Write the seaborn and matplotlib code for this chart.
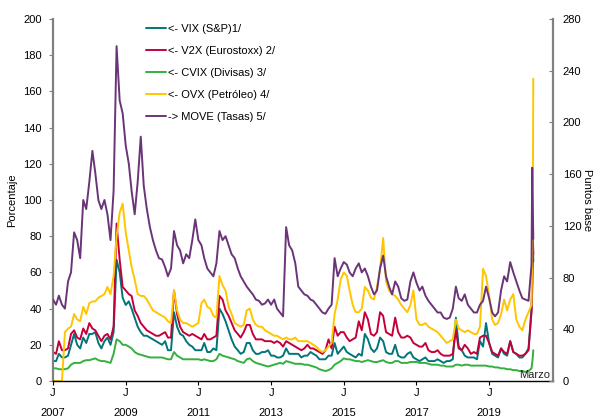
import pandas as pd
import matplotlib
matplotlib.use("Agg")
import matplotlib.pyplot as plt
import seaborn as sns

# monthly readings Jan 2007 - Feb 2020, then a few points in March 2020
months = pd.date_range("2007-01-01", "2020-02-01", freq="MS")
tail = pd.to_datetime(["2020-03-02", "2020-03-09", "2020-03-16", "2020-03-20"])
dates = months.append(tail)

vix = [11, 11, 15, 13, 13, 14, 20, 26, 20, 18, 24, 21,
       26, 26, 27, 21, 18, 22, 24, 20, 27, 67, 60, 46,
       42, 44, 40, 35, 30, 27, 25, 25, 24, 23, 22, 21,
       20, 22, 17, 17, 38, 30, 26, 25, 22, 20, 19, 17,
       17, 17, 21, 16, 16, 18, 17, 40, 37, 33, 28, 23,
       19, 17, 15, 16, 21, 21, 17, 15, 15, 16, 16, 17,
       14, 14, 13, 13, 14, 18, 15, 15, 15, 15, 13, 14,
       14, 16, 15, 14, 12, 12, 12, 14, 14, 21, 15, 17,
       19, 16, 15, 14, 13, 15, 14, 26, 23, 18, 16, 18,
       24, 22, 16, 15, 15, 20, 14, 13, 13, 15, 16, 13,
       12, 11, 12, 13, 11, 11, 11, 12, 11, 10, 11, 11,
       12, 35, 19, 17, 14, 13, 13, 13, 12, 22, 19, 32,
       21, 15, 14, 13, 18, 15, 14, 22, 16, 15, 13, 13,
       15, 18, 40, 54, 78, 66]

v2x = [16, 15, 22, 17, 17, 18, 26, 28, 24, 23, 29, 26,
       32, 29, 28, 25, 22, 25, 26, 23, 30, 87, 67, 52,
       50, 48, 47, 39, 36, 32, 30, 28, 27, 26, 25, 25,
       26, 27, 24, 24, 50, 37, 30, 27, 26, 25, 26, 25,
       24, 23, 26, 23, 23, 24, 25, 47, 45, 39, 36, 32,
       28, 26, 24, 27, 31, 31, 26, 23, 23, 23, 22, 22,
       22, 21, 22, 21, 19, 22, 21, 20, 19, 18, 17, 18,
       20, 18, 18, 17, 16, 15, 17, 23, 18, 30, 25, 27,
       27, 24, 22, 23, 24, 33, 28, 38, 34, 26, 25, 27,
       38, 36, 27, 26, 25, 35, 27, 24, 24, 25, 24, 21,
       20, 19, 19, 21, 17, 16, 16, 17, 15, 14, 14, 14,
       15, 28, 18, 17, 20, 18, 15, 16, 15, 24, 25, 25,
       21, 16, 15, 14, 18, 16, 15, 22, 16, 15, 14, 14,
       15, 17, 38, 50, 80, 70]

cvix = [7, 7, 6.5, 6.5, 6.5, 7, 9, 10, 10, 10, 11, 11.5,
        11.5, 12, 12.5, 11.5, 11, 11, 10.5, 10, 15, 23, 22, 20,
        20, 19, 18, 16, 15, 14.5, 14, 13.5, 13, 13, 13, 13,
        13, 12.5, 12, 12, 16, 14, 13, 12, 12, 12, 12, 12,
        12, 11.5, 12, 11.5, 11, 11, 12, 15, 14, 13.5, 13, 12.5,
        12, 11, 10.5, 10, 12, 12.5, 11, 10, 9.5, 9, 8.5, 8,
        8.5, 9, 9.5, 10, 9.5, 11, 10.5, 10, 9.5, 9.5, 9.5, 9,
        9, 8.5, 8, 7.5, 6.5, 6, 5.5, 6, 7, 9, 10, 11,
        12.5, 12, 12, 11.5, 11, 11, 10.5, 11, 11.5, 11, 10.5, 10.5,
        11, 11.5, 10.5, 10, 10, 11, 11, 10, 10, 10, 10.5, 10.5,
        10.5, 10, 10, 10, 9.5, 9, 9, 9, 8.5, 8.5, 8, 8,
        8, 9, 9, 8.5, 9, 9, 8.5, 8.5, 8.5, 8.5, 8.5, 8.5,
        8, 8, 7.5, 7.5, 7, 7, 6.5, 6.5, 6, 6, 5.5, 5.5,
        5, 5.5, 7, 10, 14, 17]

ovx = [0, 0, 0, 0, 27, 29, 30, 37, 34, 33, 41, 37,
       43, 44, 44, 46, 47, 48, 52, 48, 58, 80, 93, 98,
       82, 72, 63, 56, 48, 47, 47, 45, 42, 39, 38, 37,
       36, 35, 33, 32, 50, 39, 34, 32, 32, 31, 30, 31,
       32, 43, 45, 41, 40, 36, 35, 58, 53, 50, 41, 37,
       32, 31, 30, 31, 39, 40, 34, 31, 30, 30, 28, 27,
       26, 25, 25, 24, 23, 24, 23, 23, 24, 22, 22, 22,
       22, 21, 20, 19, 17, 16, 17, 19, 21, 37, 45, 56,
       60, 58, 50, 42, 38, 38, 40, 52, 50, 46, 45, 52,
       62, 79, 55, 50, 48, 47, 45, 42, 40, 38, 42, 50,
       34, 31, 31, 32, 30, 29, 28, 27, 25, 23, 21, 22,
       23, 34, 29, 28, 27, 28, 27, 26, 26, 30, 62, 58,
       47, 34, 31, 32, 37, 45, 39, 45, 48, 34, 30, 28,
       34, 38, 42, 70, 110, 167]

move = [63, 59, 66, 59, 56, 77, 84, 115, 109, 95, 140, 133,
        154, 178, 161, 140, 133, 140, 129, 109, 147, 259, 217, 207,
        182, 168, 147, 129, 154, 189, 151, 133, 119, 109, 101, 95,
        94, 88, 81, 87, 116, 105, 101, 91, 98, 95, 109, 125,
        109, 105, 95, 87, 84, 81, 91, 116, 109, 112, 105, 98,
        95, 87, 81, 77, 73, 70, 67, 63, 62, 59, 60, 63,
        59, 63, 56, 53, 50, 119, 105, 101, 91, 73, 70, 67,
        66, 63, 62, 59, 56, 53, 52, 56, 59, 95, 81, 87,
        92, 90, 84, 81, 87, 91, 84, 87, 81, 73, 67, 70,
        87, 97, 81, 73, 67, 77, 73, 64, 62, 63, 77, 84,
        76, 70, 73, 66, 62, 59, 56, 53, 53, 49, 48, 49,
        56, 73, 64, 62, 67, 59, 56, 53, 53, 59, 62, 73,
        64, 53, 50, 53, 70, 81, 77, 92, 84, 77, 70, 64,
        63, 62, 90, 165, 130, 110]

labels = ["<- VIX (S&P)1/", "<- V2X (Eurostoxx) 2/", "<- CVIX (Divisas) 3/",
          "<- OVX (Petróleo) 4/", "-> MOVE (Tasas) 5/"]
colors = ["#00767A", "#C4003A", "#34B03E", "#FFC600", "#6B3479"]

tick_years = [2007, 2009, 2011, 2013, 2015, 2017, 2019]

sns.set_theme(style="white")
plt.rcParams["font.family"] = ["Liberation Sans", "DejaVu Sans"]
plt.rcParams["font.size"] = 8
plt.rcParams["text.color"] = "black"
plt.rcParams["axes.labelcolor"] = "black"

df = pd.DataFrame({"fecha": dates, "vix": vix, "v2x": v2x, "cvix": cvix,
                   "ovx": ovx, "move": move})

fig = plt.figure(figsize=(5.94, 4.19), dpi=100)
ax = fig.add_axes([53 / 594, 1 - 381 / 419, 500 / 594, 362 / 419])
ax2 = ax.twinx()

lw = 1.4
for col, lab, c in zip(["vix", "v2x", "cvix", "ovx"], labels[:4], colors[:4]):
    sns.lineplot(data=df, x="fecha", y=col, ax=ax, color=c, lw=lw, label=lab)
sns.lineplot(data=df, x="fecha", y="move", ax=ax2, color=colors[4], lw=lw, label=labels[4])

ax.get_legend().remove()
h1, l1 = ax.get_legend_handles_labels()
h2, l2 = ax2.get_legend_handles_labels()
ax2.legend(h1 + h2, l1 + l2, loc="upper left", frameon=False, fontsize=8,
           bbox_to_anchor=(146 / 594, 1 - 24 / 419), bbox_transform=fig.transFigure,
           borderpad=0, borderaxespad=0, handlelength=1.8, handletextpad=0.15,
           labelspacing=1.08)

ax.set_xlim(pd.Timestamp("2007-01-01"), pd.Timestamp("2020-10-04"))
ax.set_ylim(0, 200)
ax2.set_ylim(0, 280)
ax.set_yticks(range(0, 201, 20))
ax2.set_yticks(range(0, 281, 40))

ax.set_xticks(pd.to_datetime([f"{y}-01-01" for y in tick_years]))
ax.set_xticklabels([f"J\n{y}" for y in tick_years], linespacing=2.3)

ax.set_xlabel("")
ax.set_ylabel("Porcentaje", fontsize=8)
ax.yaxis.set_label_coords(-0.072, 0.5)
ax2.set_ylabel("Puntos base", fontsize=8, rotation=270, va="bottom")
ax2.yaxis.set_label_coords(1.058, 0.5)

for a in (ax, ax2):
    a.spines["top"].set_visible(False)
ax.spines["right"].set_visible(False)
ax2.spines["left"].set_visible(False)
ax2.spines["bottom"].set_visible(False)
ax.spines["left"].set_color("#808080")
ax.spines["left"].set_linewidth(1.6)
ax2.spines["right"].set_color("#808080")
ax2.spines["right"].set_linewidth(1.6)
ax.spines["bottom"].set_color("black")
ax.spines["bottom"].set_linewidth(1.0)

ax.tick_params(axis="y", left=True, direction="out", length=3, width=0.8,
               color="#808080", pad=5, labelsize=8, labelcolor="black")
ax2.tick_params(axis="y", right=True, direction="in", length=3, width=0.8,
                color="#808080", pad=7, labelsize=8, labelcolor="black")
ax.tick_params(axis="x", bottom=True, direction="out", length=3, width=0.8,
               color="black", pad=2, labelsize=8, labelcolor="black")

ax.text(0.994, 0.004, "Marzo", transform=ax.transAxes, ha="right", va="bottom",
        fontsize=8, color="#222222")

fig.savefig("out.png", dpi=100)
